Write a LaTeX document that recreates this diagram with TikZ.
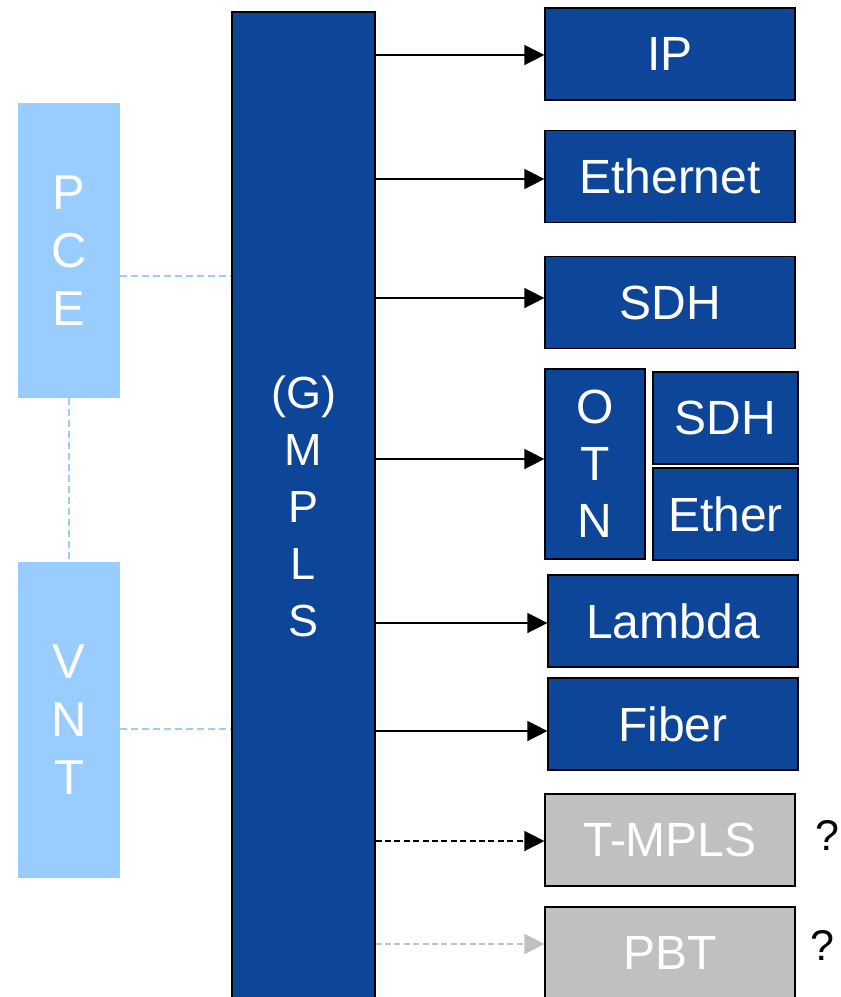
\documentclass[tikz,border=0pt]{standalone}
\usepackage{fontspec}
\setmainfont{Liberation Sans}
\usetikzlibrary{calc,positioning,arrows.meta}
\definecolor{mplsblue}{RGB}{13,70,152}
\definecolor{ctrlblue}{RGB}{153,204,255}
\definecolor{futgray}{RGB}{192,192,192}
\begin{document}
\begin{tikzpicture}[x=0.5pt,y=-0.5pt,
 layer/.style={draw=black,line width=0.6pt,fill=mplsblue,text=white,inner sep=0pt,align=center,font=\fontsize{24}{28.5}\selectfont},
 tech/.style={layer,minimum width=125pt,minimum height=46pt},
 future/.style={tech,fill=futgray},
 ctrl/.style={fill=ctrlblue,text=white,inner sep=0pt,minimum width=51pt,align=center,font=\fontsize{24.5}{29}\selectfont},
 link/.style={-{Triangle[length=10pt,width=10pt]},line width=0.7pt},
 ctrllink/.style={draw=ctrlblue,line width=0.8pt,dash pattern=on 3.5pt off 2pt}]
\useasboundingbox(0,0)rectangle(841,997);
\node[layer,minimum width=71.5pt,minimum height=494pt,font=\fontsize{22.5}{28.5}\selectfont](gmpls)at(303.5,506){(G)\\M\\P\\L\\S};
\node[ctrl,minimum height=147.5pt](pce)at(69,250.5){P\\C\\E};
\node[ctrl,minimum height=158pt](vnt)at(69,720){V\\N\\T};
\node[tech](ip)at(670,54){IP};
\node[tech](eth)at(670,176.5){Ethernet};
\node[tech](sdh)at(670,302.5){SDH};
\node[layer,minimum width=50pt,minimum height=95pt](otn)at(595,464){O\\T\\N};
\node[layer,minimum width=72.5pt,minimum height=46pt](otnsdh)at(725.5,418){SDH};
\node[layer,minimum width=72.5pt,minimum height=46pt](otneth)at(725.5,514){Ether};
\node[tech](lambda)at(673,621){Lambda};
\node[tech](fiber)at(673,724){Fiber};
\node[future](tmpls)at(670,840){T-MPLS};
\node[future](pbt)at(670,953){PBT};
\node[font=\fontsize{21.5}{24}\selectfont](q1)at(827,835){?};
\node[font=\fontsize{21.5}{24}\selectfont](q2)at(822,945){?};
\coordinate(pcetap)at(120,276);
\coordinate(vnttap)at(120,729);
\draw[ctrllink](pce.south)--(vnt.north);
\draw[ctrllink](pce.east|-pcetap)--(gmpls.west|-pcetap);
\draw[ctrllink](vnt.east|-vnttap)--(gmpls.west|-vnttap);
\foreach \n/\y in {ip/55,eth/179,sdh/298,otn/459,lambda/623,fiber/731}
 \draw[link](gmpls.east|-0,\y)--(\n.west|-0,\y);
\draw[link,dash pattern=on 3pt off 1.7pt](gmpls.east|-0,841)--(tmpls.west|-0,841);
\draw[link,futgray,dash pattern=on 3pt off 1.7pt](gmpls.east|-0,944)--(pbt.west|-0,944);
\end{tikzpicture}
\end{document}
